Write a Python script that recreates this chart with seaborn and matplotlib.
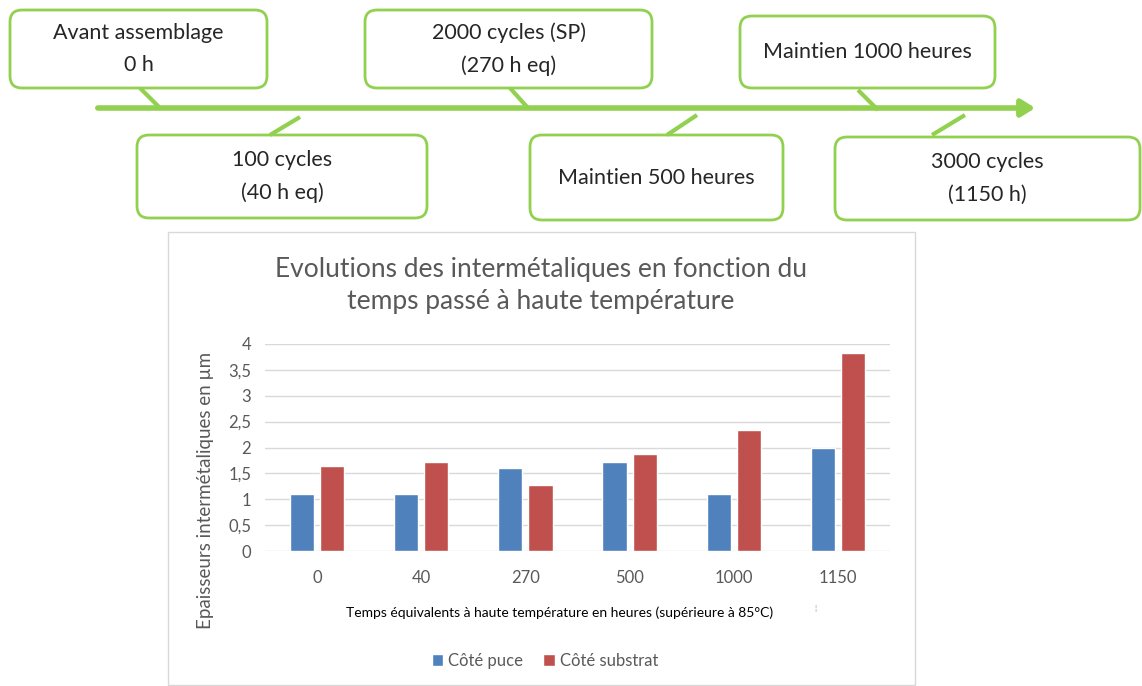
import pandas as pd
import numpy as np
import seaborn as sns
import matplotlib.pyplot as plt
from matplotlib.patches import FancyBboxPatch, Rectangle, FancyArrowPatch

# Data
hours = ['0', '40', '270', '500', '1000', '1150']
cote_puce = [1.1, 1.1, 1.6, 1.72, 1.1, 2.0]
cote_substrat = [1.65, 1.72, 1.28, 1.88, 2.33, 3.82]
series = ['Côté puce', 'Côté substrat']

# Timeline labels (above / below the arrow)
steps_top = ['Avant assemblage\n0 h', '2000 cycles (SP)\n(270 h eq)', 'Maintien 1000 heures']
steps_bottom = ['100 cycles\n(40 h eq)', 'Maintien 500 heures', '3000 cycles\n(1150 h)']

df = pd.DataFrame({
    'Heures': hours * 2,
    'Epaisseur': cote_puce + cote_substrat,
    'Cote': [series[0]] * len(hours) + [series[1]] * len(hours),
})

sns.set_theme(style='white')
plt.rcParams['font.family'] = ['Lato', 'DejaVu Sans']

W, H = 1142, 686
fig = plt.figure(figsize=(W / 100, H / 100), dpi=100)

# background layer in pixel coordinates
bg = fig.add_axes([0, 0, 1, 1])
bg.set_xlim(0, W)
bg.set_ylim(H, 0)
bg.axis('off')

green = '#92D050'
txt = '#262626'

# arrow
bg.add_patch(FancyArrowPatch((95, 108), (1038, 108), arrowstyle='-|>,head_length=8,head_width=5',
                             color=green, lw=4, mutation_scale=1))

# boxes: (x0, y0, x1, y1), connector from box to arrow
top_boxes = [(10, 10, 267, 88), (365, 10, 652, 88), (740, 16, 995, 88)]
top_links = [((140, 88), (160, 108)), ((510, 88), (528, 108)), ((858, 90), (878, 110))]
bot_boxes = [(137, 135, 427, 218), (530, 135, 783, 220), (835, 137, 1140, 220)]
bot_links = [((300, 117), (270, 135)), ((697, 115), (667, 135)), ((965, 115), (932, 135))]

for boxes, links, labels in [(top_boxes, top_links, steps_top), (bot_boxes, bot_links, steps_bottom)]:
    for (x0, y0, x1, y1), (p, q), lab in zip(boxes, links, labels):
        bg.add_patch(FancyBboxPatch((x0, y0), x1 - x0, y1 - y0,
                                    boxstyle='round,pad=0,rounding_size=12',
                                    fc='white', ec=green, lw=2))
        bg.plot([p[0], q[0]], [p[1], q[1]], color=green, lw=3, solid_capstyle='butt')
        bg.text((x0 + x1) / 2, (y0 + y1) / 2, lab, ha='center', va='center',
                fontsize=15.5, color=txt, linespacing=1.75)

# chart frame
bg.add_patch(Rectangle((168, 232), 747, 453, fc='white', ec='#D9D9D9', lw=1))

bg.text(541, 270, 'Evolutions des intermétaliques en fonction du', ha='center', va='center',
        fontsize=19, color='#595959')
bg.text(541, 302, 'temps passé à haute température', ha='center', va='center',
        fontsize=19, color='#595959')
bg.text(205, 490, 'Epaisseurs intermétaliques en µm', ha='center', va='center',
        rotation=90, fontsize=13.5, color='#595959')
bg.text(560, 613, 'Temps équivalents à haute température en heures (supérieure à 85°C)',
        ha='center', va='center', fontsize=10, color='black')
bg.text(815, 608, '¦', ha='center', va='center', fontsize=6, color='#A0A0A0')

# bar chart
ax = fig.add_axes([265 / W, (H - 551) / H, 625 / W, 207 / H])
sns.barplot(data=df, x='Heures', y='Epaisseur', hue='Cote', order=hours,
            palette=['#4F81BD', '#C0504D'], saturation=1, width=0.58, gap=0.2,
            ax=ax, zorder=3)
ax.set_ylim(0, 4)
ax.set_xlim(-0.5, 5.5)
yt = np.arange(0, 4.01, 0.5)
ax.set_yticks(yt)
ax.set_yticklabels([('%g' % v).replace('.', ',') for v in yt])
ax.grid(axis='y', color='#D9D9D9', lw=1, zorder=0)
ax.set_facecolor('none')
for s in ax.spines.values():
    s.set_visible(False)
ax.tick_params(axis='both', length=0, labelsize=12, colors='#595959')
ax.tick_params(axis='x', pad=14)
ax.tick_params(axis='y', pad=10)
ax.set_xlabel('')
ax.set_ylabel('')

handles, labels = ax.get_legend_handles_labels()
ax.legend(handles, labels, loc='center', bbox_to_anchor=(545 / W, (H - 661) / H),
          bbox_transform=fig.transFigure, ncol=2, frameon=False, fontsize=12,
          handlelength=0.7, handleheight=0.7, handletextpad=0.3, columnspacing=1.2,
          labelcolor='#595959')

fig.savefig('out.png', dpi=100)
